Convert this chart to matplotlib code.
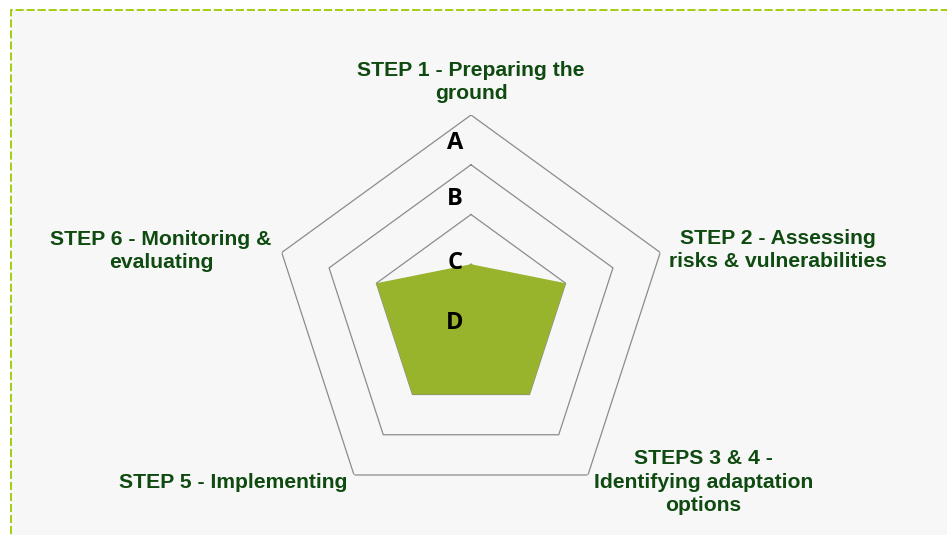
import numpy as np
import matplotlib
matplotlib.use("Agg")
import matplotlib.pyplot as plt
from matplotlib.patches import Rectangle

# ---- data ----
categories = ["STEP 1 - Preparing the\nground",
              "STEP 2 - Assessing\nrisks & vulnerabilities",
              "STEPS 3 & 4 -\nIdentifying adaptation\noptions",
              "STEP 5 - Implementing",
              "STEP 6 - Monitoring &\nevaluating"]
values = [1, 2, 2, 2, 2]
grid_levels = [1, 2, 3, 4]
level_labels = ["A", "B", "C", "D"]

W, H = 947, 535
fig = plt.figure(figsize=(W / 100, H / 100), dpi=100)
fig.patch.set_facecolor("white")

def fx(px):
    return px / W

def fy(py):
    return 1 - py / H

# panel background with dashed border
bg = Rectangle((fx(10.5), -0.05), 1.1, fy(9.5) + 0.05, transform=fig.transFigure,
               facecolor="#F7F7F7", edgecolor="#99CC00", linewidth=1.3,
               linestyle=(0, (4.5, 1.6)), zorder=-10)
fig.patches.append(bg)

cx, cy, R = 471, 314, 199
ax = fig.add_axes([fx(cx - R), fy(cy + R), 2 * R / W, 2 * R / H],
                  projection="polar")
ax.set_zorder(1)
ax.set_facecolor("none")
ax.patch.set_visible(False)
ax.set_theta_zero_location("N")
ax.set_theta_direction(-1)
ax.set_ylim(0, max(grid_levels))
ax.grid(False)
ax.spines["polar"].set_visible(False)
ax.set_xticks([])
ax.set_yticks([])

n = len(categories)
theta = np.linspace(0, 2 * np.pi, n, endpoint=False)
theta_c = np.concatenate([theta, theta[:1]])

# polygon gridlines
for lv in grid_levels:
    ax.plot(theta_c, [lv] * (n + 1), color="#8C8C8C", linewidth=0.9, zorder=1)

# data polygon
vals_c = np.concatenate([values, values[:1]])
ax.fill(theta_c, vals_c, color="#97B42C", zorder=2, linewidth=0)

# category labels
label_color = "#0F4A10"
label_pos = [(471, 82), (778, 250), (703.5, 482), (233.4, 482.5), (161, 251)]
for txt, (px, py) in zip(categories, label_pos):
    fig.text(fx(px), fy(py), txt, ha="center", va="center",
             fontsize=15.2, fontweight="bold", color=label_color,
             family="Liberation Sans", linespacing=1.33, zorder=5)

# level letters
letter_pos = [(455, 143), (455, 199), (455, 263), (455, 323)]
for txt, (px, py) in zip(level_labels, letter_pos):
    fig.text(fx(px), fy(py), txt, ha="center", va="center",
             fontsize=17, fontweight="bold", color="black",
             family="Open Sans", zorder=5)

fig.savefig("out.png", dpi=100)
